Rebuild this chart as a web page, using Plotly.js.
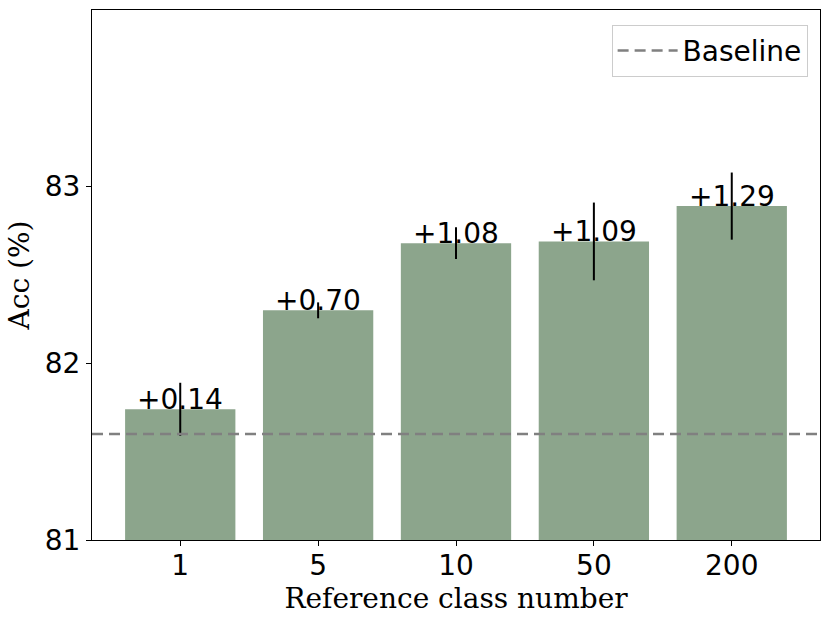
<!DOCTYPE html>
<html>
<head>
<meta charset="utf-8">
<script src="https://cdn.plot.ly/plotly-3.0.1.min.js"></script>
<style>html,body{margin:0;padding:0;background:#fff;}#chart{width:831px;height:623px;}</style>
</head>
<body>
<div id="chart"></div>
<script>
const categories = ["1", "5", "10", "50", "200"];
const accValues = [81.74, 82.30, 82.68, 82.69, 82.89];
const errValues = [0.15, 0.045, 0.09, 0.22, 0.19];
const gainLabels = ["+0.14", "+0.70", "+1.08", "+1.09", "+1.29"];
const baselineValue = 81.6;

const xPos = categories.map((c, i) => i);
const xRange = [-0.64, 4.64];

const bars = {
  type: 'bar',
  x: xPos,
  y: accValues.map(v => v - 81),
  base: 81,
  width: 0.8,
  marker: {color: '#8ca58c'},
  error_y: {type: 'data', array: errValues, visible: true, color: '#000', thickness: 2, width: 0},
  showlegend: false,
  hoverinfo: 'skip'
};

const baseline = {
  type: 'scatter',
  mode: 'lines',
  x: xRange,
  y: [baselineValue, baselineValue],
  line: {color: '#808080', width: 2.5, dash: '11px,6px'},
  name: 'Baseline'
};

const annotations = categories.map((c, i) => ({
  x: xPos[i], y: accValues[i], xref: 'x', yref: 'y',
  text: gainLabels[i], showarrow: false, yanchor: 'bottom', xanchor: 'center', yshift: -9,
  font: {family: 'DejaVu Sans', size: 28, color: '#000'}
}));

const layout = {
  width: 831, height: 623,
  margin: {l: 92, r: 11, t: 10, b: 83},
  paper_bgcolor: '#fff', plot_bgcolor: '#fff',
  font: {family: 'DejaVu Sans', size: 28, color: '#000'},
  xaxis: {
    range: xRange, tickmode: 'array', tickvals: xPos, ticktext: categories,
    showgrid: false, zeroline: false, showline: true, mirror: true, linecolor: '#000', linewidth: 1,
    ticks: 'outside', ticklen: 5, tickcolor: '#000', ticklabelstandoff: -5,
    tickfont: {family: 'DejaVu Sans', size: 28, color: '#000'},
    title: {text: 'Reference class number', font: {family: 'DejaVu Serif', size: 28, color: '#000'}, standoff: 0}
  },
  yaxis: {
    range: [81, 84], tickvals: [81, 82, 83], ticktext: ['81', '82', '83'],
    showgrid: false, zeroline: false, showline: true, mirror: true, linecolor: '#000', linewidth: 1,
    ticks: 'outside', ticklen: 5, tickcolor: '#000',
    tickfont: {family: 'DejaVu Sans', size: 28, color: '#000'},
    title: {text: 'Acc (%)', font: {family: 'DejaVu Serif', size: 28, color: '#000'}, standoff: 6}
  },
  legend: {
    x: 0.983, y: 0.972, xanchor: 'right', yanchor: 'top',
    bgcolor: '#fff', bordercolor: '#cccccc', borderwidth: 1, itemwidth: 60,
    font: {family: 'DejaVu Sans', size: 28, color: '#000'}
  },
  annotations: annotations
};

Plotly.newPlot('chart', [bars, baseline], layout, {displayModeBar: false, staticPlot: true});
</script>
</body>
</html>
